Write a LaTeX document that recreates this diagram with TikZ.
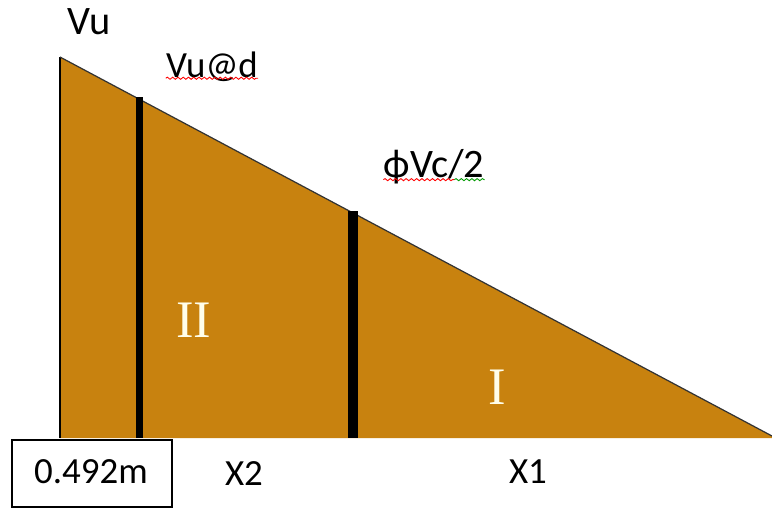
\documentclass[tikz,border=0pt]{standalone}
\usepackage{fontspec}
\setmainfont{Carlito}
\newfontfamily\numfont{Liberation Serif}
\usepackage{tikz}
\usetikzlibrary{calc, decorations.pathmorphing}

\definecolor{shearfill}{RGB}{200,130,15}

\begin{document}
\begin{tikzpicture}[
  x=0.02cm, y=-0.02cm,
  lbl/.style     = {font=\fontsize{21}{23}\selectfont, text=black, inner sep=0pt},
  biglbl/.style  = {font=\fontsize{23}{25}\selectfont, text=black, inner sep=0pt},
  zone/.style    = {font=\numfont\fontsize{30}{32}\selectfont, text=white!92!yellow, inner sep=0pt},
  bar/.style     = {line cap=butt, black},
  spell/.style   = {decorate, decoration={snake, amplitude=0.6pt, segment length=3pt}, line width=0.5pt},
  dimbox/.style  = {draw=black, line width=0.9pt, fill=white},
]

\useasboundingbox (0,0) rectangle (772,508);

% the shear triangle
\coordinate (top)   at (60,57);
\coordinate (base)  at (60,438);
\coordinate (tip)   at (772,436);
\fill[shearfill] (top) -- (base) -- (772,438) -- (tip) -- cycle;
\draw[black, line width=0.9pt] (base) -- (top);
\draw[black!80, line width=0.7pt] (top) -- (tip);

% sections
\coordinate (dtop)  at (139.5,97);
\coordinate (dbot)  at (139.5,438);
\coordinate (ctop)  at (353,211);
\coordinate (cbot)  at (353,438);
\draw[bar, line width=4pt]   (dtop) -- (dbot);
\draw[bar, line width=5.8pt] (ctop) -- (cbot);

\node[biglbl] (vu)  at (89,22)  {Vu};
\node[lbl] (vud) at (212,67) {Vu@d};
\node[biglbl] (phivc) at (434,167) {ϕVc/2};

\draw[spell, red] ($(vud.south west)+(0,-4)$) -- ($(vud.south east)+(0,-4)$);
\draw[spell, red] ($(phivc.south west)+(0,-5)$) -- ($(phivc.south west)+(71,-5)$);
\draw[spell, green!60!black] ($(phivc.south west)+(71,-5)$) -- ($(phivc.south east)+(0,-5)$);

\node[zone] (two) at (194,320) {II};
\node[zone] (one) at (497,387) {I};

\draw[dimbox] (12,440) rectangle (172,507);
\node[lbl] (dist) at (91,472) {0.492m};
\node[lbl] (xtwo) at (244,474) {X2};
\node[lbl] (xone) at (528,472) {X1};

\end{tikzpicture}
\end{document}
